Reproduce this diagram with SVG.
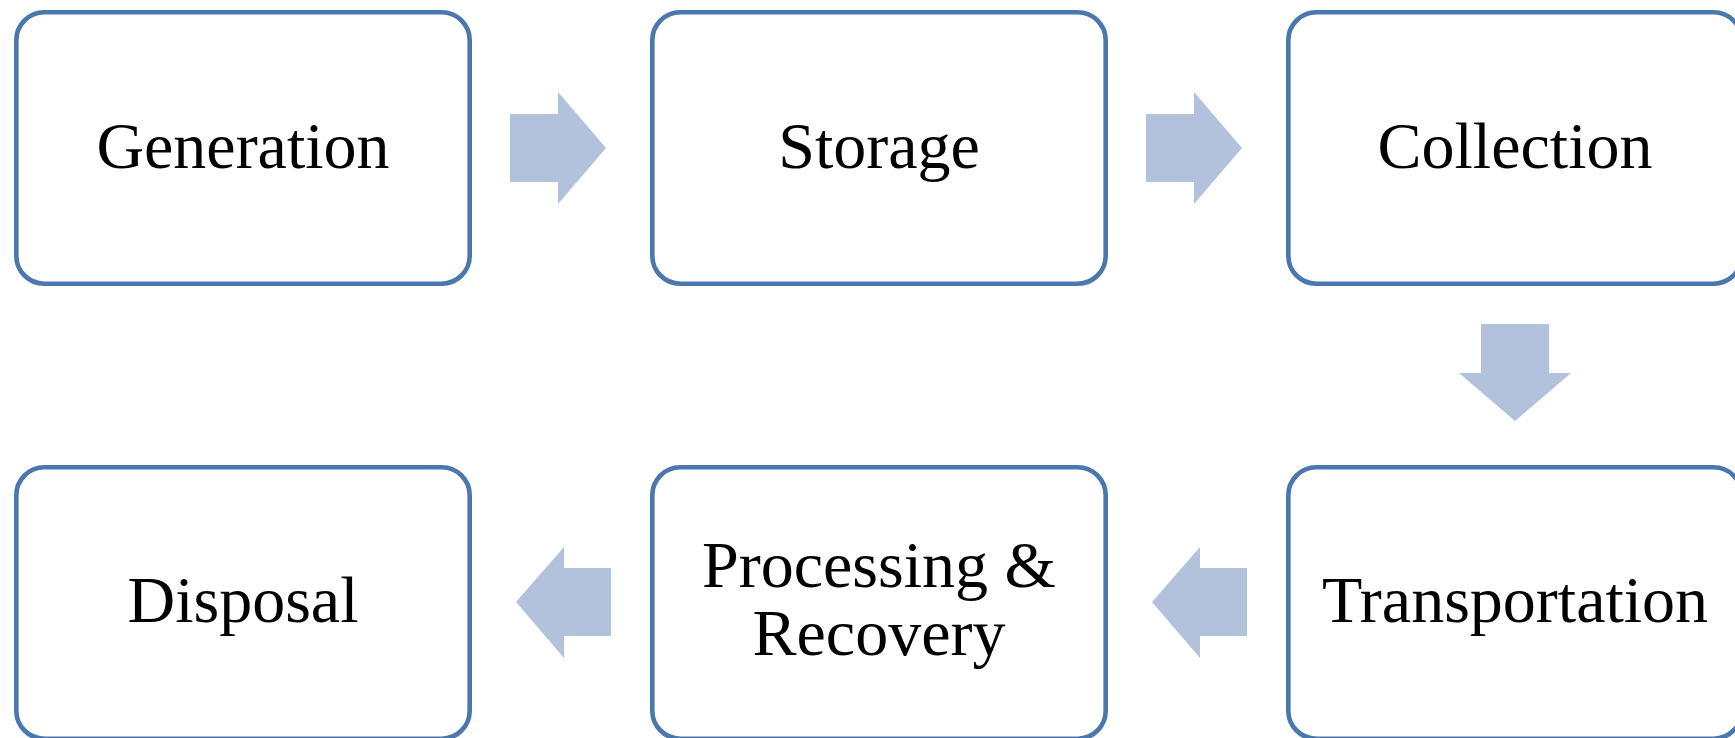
<svg xmlns="http://www.w3.org/2000/svg" width="1735" height="738" viewBox="0 0 1735 738">
<style>
.box{fill:#ffffff;stroke:#4A77AE;stroke-width:4.6}
.arr{fill:#B2C2DC;stroke:none}
.lbl{font-family:"Liberation Serif","Times New Roman",serif;font-size:66px;fill:#000000;text-anchor:middle}
</style>
<rect width="1735" height="738" fill="#ffffff"/>
<g id="connectors">
<polygon class="arr" points="510,114 558,114 558,92 606,148 558,204 558,182 510,182"/>
<polygon class="arr" points="1146,114 1194,114 1194,92 1242,148 1194,204 1194,182 1146,182"/>
<polygon class="arr" points="1481,324 1549,324 1549,373 1571,373 1515,421 1459,373 1481,373"/>
<polygon class="arr" points="1247,568 1200,568 1200,547 1152,602 1200,658 1200,636 1247,636"/>
<polygon class="arr" points="611,568 564,568 564,547 516,602 564,658 564,636 611,636"/>
</g>
<g id="generation">
<rect class="box" x="16.3" y="12.3" width="453.4" height="271.4" rx="28"/>
<text class="lbl" x="243" y="168">Generation</text>
</g>
<g id="storage">
<rect class="box" x="652.3" y="12.3" width="453.4" height="271.4" rx="28"/>
<text class="lbl" x="879" y="168">Storage</text>
</g>
<g id="collection">
<rect class="box" x="1288.3" y="12.3" width="453.4" height="271.4" rx="28"/>
<text class="lbl" x="1515" y="168">Collection</text>
</g>
<g id="transportation">
<rect class="box" x="1288.3" y="467.3" width="453.4" height="271.4" rx="28"/>
<text class="lbl" x="1515" y="622">Transportation</text>
</g>
<g id="processing">
<rect class="box" x="652.3" y="467.3" width="453.4" height="271.4" rx="28"/>
<text class="lbl" x="879" y="587">Processing &amp;</text>
<text class="lbl" x="879" y="655">Recovery</text>
</g>
<g id="disposal">
<rect class="box" x="16.3" y="467.3" width="453.4" height="271.4" rx="28"/>
<text class="lbl" x="243" y="622">Disposal</text>
</g>
</svg>
